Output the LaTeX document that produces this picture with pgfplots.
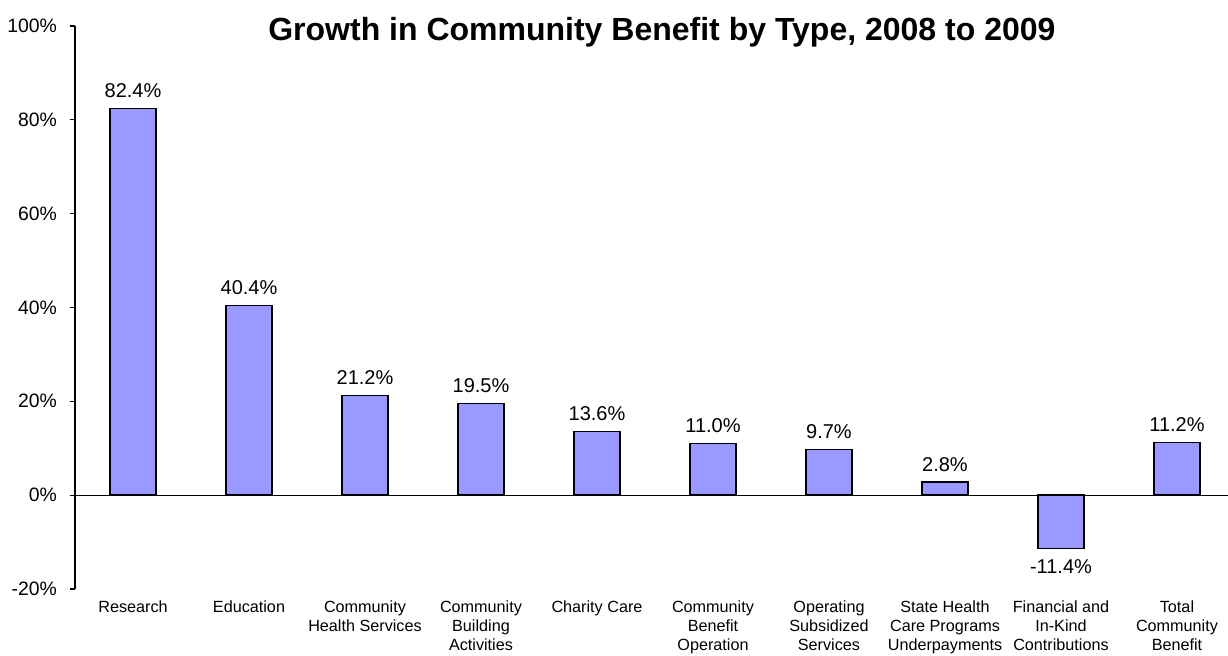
\documentclass[border=0pt]{standalone}
\usepackage{pgfplots}
\pgfplotsset{compat=1.18}
\usepackage{fontspec}
\setmainfont{Liberation Sans}
\definecolor{barblue}{HTML}{9999FF}

\begin{document}
\begin{tikzpicture}
\useasboundingbox (0,0) rectangle (614pt,328pt);
\begin{axis}[
    at={(37.5pt,33.5pt)}, anchor=south west,
    scale only axis,
    width=576.5pt, height=281.5pt,
    /pgf/number format/assume math mode=true,
    ybar, bar width=0.4,
    xmin=-0.5, xmax=9.44,
    ymin=-20, ymax=100,
    ytick={-20,0,20,40,60,80,100},
    yticklabel={\pgfmathprintnumber{\tick}\%},
    yticklabel style={font=\fontsize{9.7}{11}\selectfont, xshift=-3pt},
    axis y line*=left,
    y axis line style={black, line width=0.6pt},
    ytick style={black, line width=0.6pt},
    tick align=outside, major tick length=2.5pt,
    axis x line*=bottom,
    x axis line style={draw=none},
    xtick style={draw=none},
    xtick=data,
    xticklabels={Research, Education, Community\\Health Services, Community\\Building\\Activities, Charity Care, Community\\Benefit\\Operation, Operating\\Subsidized\\Services, State Health\\Care Programs\\Underpayments, Financial and\\In-Kind\\Contributions, Total\\Community\\Benefit},
    xticklabel style={align=center, font=\fontsize{8.1}{9.35}\selectfont},
    extra y ticks={0}, extra y tick labels={},
    extra y tick style={grid=major, major grid style={black, line width=0.6pt}, tick style={draw=none}},
    nodes near coords={\pgfmathprintnumber[fixed,fixed zerofill,precision=1]{\pgfplotspointmeta}\%},
    every node near coord/.append style={font=\fontsize{10}{12}\selectfont, black, inner ysep=5pt},
    clip=false,
]
\addplot[fill=barblue, draw=black, line width=0.75pt] coordinates {
    (0,82.4) (1,40.4) (2,21.2) (3,19.5) (4,13.6)
    (5,11.0) (6,9.7) (7,2.8) (8,-11.4) (9,11.2)
};
\node[anchor=base, font=\bfseries\fontsize{16}{19}\selectfont] at ([yshift=-7.5pt]rel axis cs:0.509,1) {Growth in Community Benefit by Type, 2008 to 2009};
\end{axis}
\end{tikzpicture}
\end{document}
